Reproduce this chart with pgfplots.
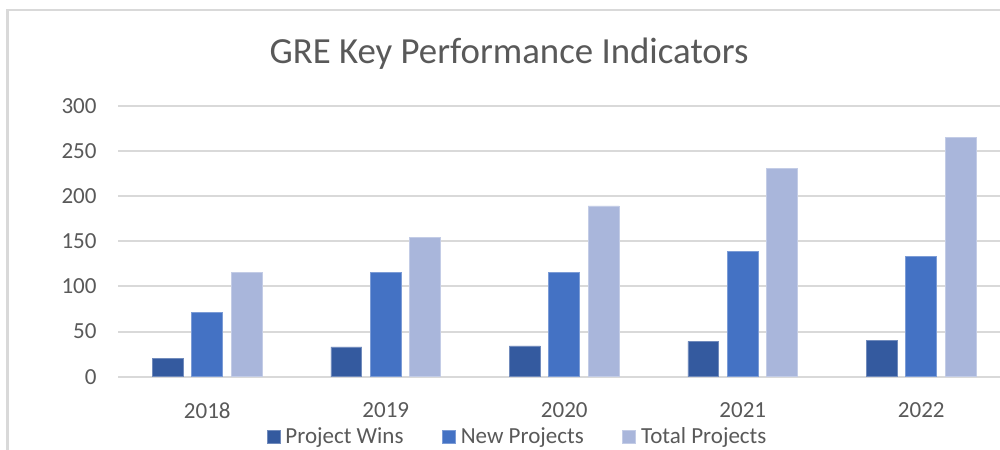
\documentclass[border=0pt]{standalone}
\usepackage{pgfplots}
\pgfplotsset{compat=1.18}
\usepackage{fontspec}
\setmainfont{Carlito}
\definecolor{cWins}{HTML}{345A9F}
\definecolor{cNew}{HTML}{4472C4}
\definecolor{cTot}{HTML}{A9B6DB}
\definecolor{cGrid}{HTML}{D9D9D9}
\definecolor{cText}{HTML}{595959}
\begin{document}
\begin{tikzpicture}[x=0.391pt,y=0.391pt]
\useasboundingbox (0,0) rectangle (1000,449);
\clip (0,0) rectangle (1000,449);
\draw[cGrid, line width=0.8pt] (7.5,-10) -- (7.5,439) -- (1010,439);
\node[anchor=base, text=cText, font=\fontsize{14.4}{17}\selectfont, inner sep=0pt] at (509,385.7) {GRE Key Performance Indicators};
\begin{axis}[
  at={(46.14pt,28.27pt)}, anchor=south west,
  scale only axis, width=344.86pt, height=105.96pt,
  xmin=-0.5, xmax=4.441, ymin=0, ymax=300,
  ytick={0,50,100,150,200,250,300},
  xtick={0,1,2,3,4}, xticklabels={2018,2019,2020,2021,2022},
  ymajorgrids, grid style={cGrid, line width=0.75pt},
  axis line style={draw=none}, major tick length=0pt,
  tick label style={font=\fontsize{9}{11}\selectfont, text=cText, inner sep=0pt},
  yticklabel style={anchor=east, xshift=-8.2pt},
  xticklabel style={anchor=north, yshift=-9.8pt},
  /pgf/number format/assume math mode=true,
  ybar=3.3pt, bar width=12.1pt,
  legend columns=3,
  legend style={at={(0.4518,-0.2225)}, anchor=center, draw=none, fill=none,
    font=\fontsize{9}{11}\selectfont, text=cText, inner sep=0pt,
    nodes={inner sep=0pt},
    /tikz/every odd column/.append style={column sep=2pt},
    /tikz/every even column/.append style={column sep=15pt}},
  legend image code/.code={\fill[#1] (0pt,-2.55pt) rectangle (5.1pt,2.55pt);},
]
\addplot[fill=cWins, draw=cWins!70!white, line width=0.3pt] coordinates {(0,20) (1,33) (2,34) (3,39) (4,40)};
\addplot[fill=cNew, draw=cNew!70!white, line width=0.3pt] coordinates {(0,71) (1,115) (2,115) (3,139) (4,133)};
\addplot[fill=cTot, draw=cTot!70!white, line width=0.3pt] coordinates {(0,115) (1,154) (2,189) (3,231) (4,265)};
\legend{Project Wins, New Projects, Total Projects}
\end{axis}
\end{tikzpicture}
\end{document}
